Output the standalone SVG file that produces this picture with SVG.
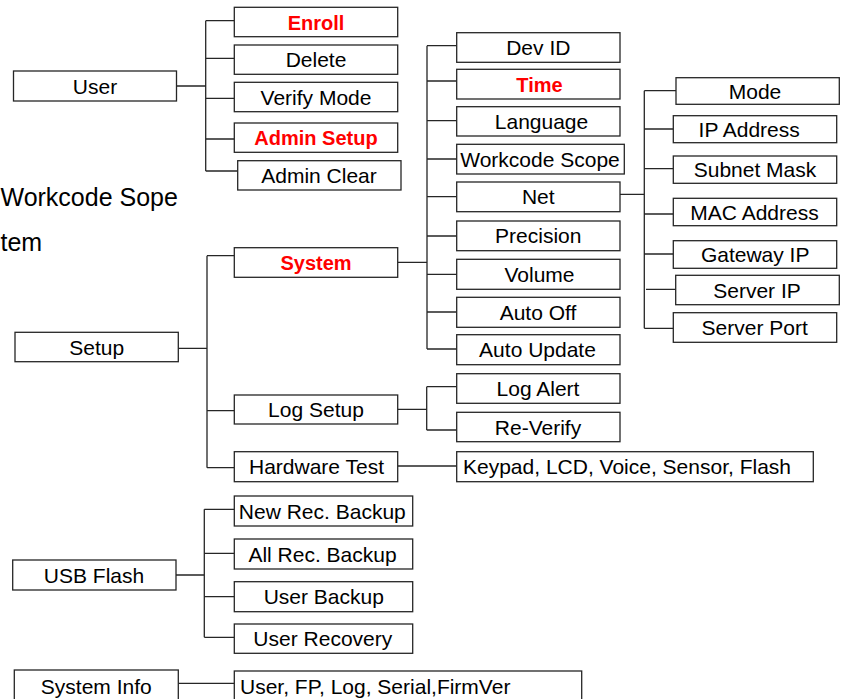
<svg xmlns="http://www.w3.org/2000/svg" width="841" height="699" viewBox="0 0 841 699">
  <style>
    .box { fill: #ffffff; stroke: #262626; stroke-width: 1.3; }
    .lbl { font-family: "Liberation Sans", Arial, sans-serif; font-size: 21px; fill: #000000; text-anchor: middle; }
    .hot { font-family: "Liberation Sans", Arial, sans-serif; font-size: 20px; font-weight: bold; fill: #ff0000; text-anchor: middle; }
    .left { text-anchor: start; }
    .stray { font-family: "Liberation Sans", Arial, sans-serif; font-size: 25px; fill: #000000; }
    .wire { fill: none; stroke: #262626; stroke-width: 1.3; }
  </style>
  <rect width="841" height="699" fill="#ffffff"/>

  <!-- loose text fragments at the left margin -->
  <text class="stray" x="0.5" y="205.5">Workcode Sope</text>
  <text class="stray" x="0.5" y="251">tem</text>

  <!-- tree connectors -->
  <g id="connectors">
    <!-- User -->
    <path class="wire" d="M176.5 86H205.7M205.7 20.7V171M205.7 20.7H234.3M205.7 58.3H234.3M205.7 98.3H234.3M205.7 139H234.3M205.7 171H237.7"/>
    <!-- Setup -->
    <path class="wire" d="M178.3 348.3H207M207 255.7V467.7M207 255.7H234.3M207 410.7H234.3M207 467.7H234.3"/>
    <!-- System -->
    <path class="wire" d="M397.7 262.3H427M427 45.7V349M427 45.7H456.7M427 81H456.7M427 120.7H456.7M427 159H456.7M427 196.7H456.7M427 236H456.7M427 274.3H456.7M427 312H456.7M427 349H456.7"/>
    <!-- Net -->
    <path class="wire" d="M620 194.3H644.3M644.3 90.7V328.3M644.3 90.7H676M644.3 129H673.3M644.3 168.7H673.3M644.3 214H673.3M644.3 254H673.3M646 289.3H675.7M644.3 328.3H673.3"/>
    <!-- Log Setup -->
    <path class="wire" d="M397.7 409.3H426.7M426.7 386.7V430M426.7 386.7H456.7M426.7 430H456.7"/>
    <!-- Hardware Test -->
    <path class="wire" d="M397.7 466H456.7"/>
    <!-- USB Flash -->
    <path class="wire" d="M176 575H204.3M204.3 509.3V637.3M204.3 509.3H234.3M204.3 553.3H234.3M204.3 596.7H234.3M204.3 637.3H234.3"/>
    <!-- System Info -->
    <path class="wire" d="M178.3 683.3H234.3"/>
  </g>

  <!-- User menu -->
  <g id="user"><rect class="box" x="13.5" y="71" width="163" height="30"/><text class="lbl" x="95" y="93.5">User</text></g>
  <g id="enroll"><rect class="box" x="234.3" y="7.3" width="163.4" height="29.4"/><text class="hot" x="316" y="29.5">Enroll</text></g>
  <g id="delete"><rect class="box" x="234.3" y="45" width="163.4" height="29.3"/><text class="lbl" x="316" y="67">Delete</text></g>
  <g id="verify-mode"><rect class="box" x="234.3" y="82.3" width="163.4" height="29.4"/><text class="lbl" x="316" y="104.5">Verify Mode</text></g>
  <g id="admin-setup"><rect class="box" x="234.3" y="123" width="163.4" height="29.3"/><text class="hot" x="316" y="145">Admin Setup</text></g>
  <g id="admin-clear"><rect class="box" x="237.7" y="160.7" width="163.3" height="29.3"/><text class="lbl" x="319" y="182.8">Admin Clear</text></g>

  <!-- Setup menu -->
  <g id="setup"><rect class="box" x="15" y="332.3" width="163.3" height="29.4"/><text class="lbl" x="96.7" y="354.5">Setup</text></g>
  <g id="system"><rect class="box" x="234.3" y="247.7" width="163.4" height="29.6"/><text class="hot" x="316" y="270">System</text></g>
  <g id="log-setup"><rect class="box" x="234.3" y="395" width="163.4" height="29"/><text class="lbl" x="316" y="417">Log Setup</text></g>
  <g id="hardware-test"><rect class="box" x="234.3" y="451.7" width="163.4" height="30"/><text class="lbl" x="316.5" y="474.2">Hardware Test</text></g>

  <!-- System submenu -->
  <g id="dev-id"><rect class="box" x="456.7" y="32.7" width="163.3" height="29.6"/><text class="lbl" x="538.3" y="55">Dev ID</text></g>
  <g id="time"><rect class="box" x="456.7" y="69.3" width="163.3" height="29.7"/><text class="hot" x="539.5" y="91.5">Time</text></g>
  <g id="language"><rect class="box" x="456.7" y="106.7" width="163.3" height="29.3"/><text class="lbl" x="541.5" y="128.8">Language</text></g>
  <g id="workcode-scope"><rect class="box" x="456.7" y="144.3" width="167.6" height="29.7"/><text class="lbl" x="540" y="166.7">Workcode Scope</text></g>
  <g id="net"><rect class="box" x="456.7" y="182" width="163.3" height="29.7"/><text class="lbl" x="538.3" y="204.3">Net</text></g>
  <g id="precision"><rect class="box" x="456.7" y="221" width="163.3" height="29.7"/><text class="lbl" x="538.3" y="243.3">Precision</text></g>
  <g id="volume"><rect class="box" x="456.7" y="259.3" width="163.3" height="30"/><text class="lbl" x="539.5" y="281.8">Volume</text></g>
  <g id="auto-off"><rect class="box" x="456.7" y="297.3" width="163.3" height="30"/><text class="lbl" x="538" y="319.8">Auto Off</text></g>
  <g id="auto-update"><rect class="box" x="456.7" y="334.7" width="163.3" height="30"/><text class="lbl" x="537.5" y="357.2">Auto Update</text></g>

  <!-- Net submenu -->
  <g id="mode"><rect class="box" x="676" y="77.7" width="163.3" height="26.6"/><text class="lbl" x="755" y="98.5">Mode</text></g>
  <g id="ip-address"><rect class="box" x="673.3" y="115.7" width="163.4" height="27"/><text class="lbl" x="749.2" y="136.7">IP Address</text></g>
  <g id="subnet-mask"><rect class="box" x="673.3" y="156" width="163.4" height="27.3"/><text class="lbl" x="755" y="177.2">Subnet Mask</text></g>
  <g id="mac-address"><rect class="box" x="673.3" y="198.3" width="163.4" height="27.4"/><text class="lbl" x="754.5" y="219.5">MAC Address</text></g>
  <g id="gateway-ip"><rect class="box" x="673.3" y="240.7" width="163.4" height="27.6"/><text class="lbl" x="755.2" y="262">Gateway IP</text></g>
  <g id="server-ip"><rect class="box" x="675.7" y="275.3" width="163.6" height="29.4"/><text class="lbl" x="757" y="297.5">Server IP</text></g>
  <g id="server-port"><rect class="box" x="673.3" y="312.7" width="163.4" height="29.6"/><text class="lbl" x="754.7" y="335">Server Port</text></g>

  <!-- Log Setup submenu -->
  <g id="log-alert"><rect class="box" x="456.7" y="373.7" width="163.3" height="29.6"/><text class="lbl" x="538" y="396">Log Alert</text></g>
  <g id="re-verify"><rect class="box" x="456.7" y="412.3" width="163.3" height="29.4"/><text class="lbl" x="538" y="434.5">Re-Verify</text></g>

  <!-- Hardware Test items -->
  <g id="hw-items"><rect class="box" x="456.7" y="451.7" width="356.6" height="30"/><text class="lbl left" x="463" y="474.2">Keypad, LCD, Voice, Sensor, Flash</text></g>

  <!-- USB Flash menu -->
  <g id="usb-flash"><rect class="box" x="12.7" y="560" width="163.3" height="30"/><text class="lbl" x="94" y="582.5">USB Flash</text></g>
  <g id="new-rec-backup"><rect class="box" x="234.3" y="496" width="178.4" height="30"/><text class="lbl" x="322.3" y="518.5">New Rec. Backup</text></g>
  <g id="all-rec-backup"><rect class="box" x="234.3" y="539" width="178.4" height="30"/><text class="lbl" x="322.5" y="561.5">All Rec. Backup</text></g>
  <g id="user-backup"><rect class="box" x="234.3" y="581.7" width="178.4" height="30"/><text class="lbl" x="323.8" y="604.2">User Backup</text></g>
  <g id="user-recovery"><rect class="box" x="234.3" y="624" width="178.4" height="29.3"/><text class="lbl" x="322.8" y="646.2">User Recovery</text></g>

  <!-- System Info -->
  <g id="system-info"><rect class="box" x="14.3" y="670" width="164" height="31"/><text class="lbl" x="96.3" y="694">System Info</text></g>
  <g id="info-items"><rect class="box" x="234.3" y="671" width="347.4" height="31"/><text class="lbl left" x="240" y="694">User, FP, Log, Serial,FirmVer</text></g>
</svg>
